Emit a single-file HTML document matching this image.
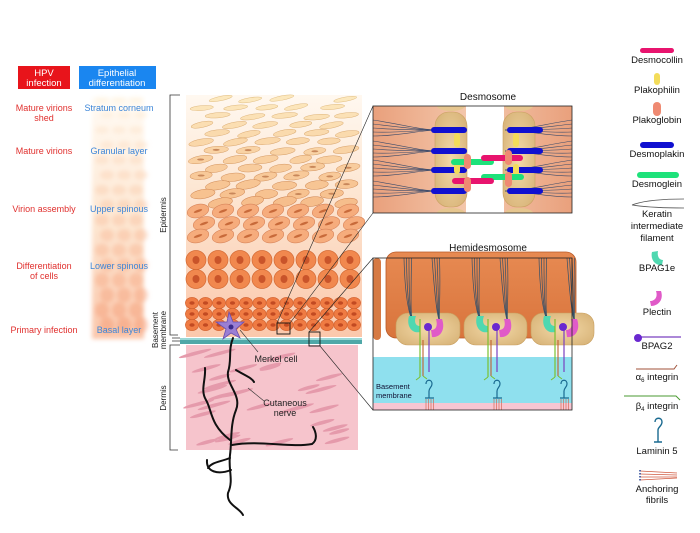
<!DOCTYPE html>
<html><head><meta charset="utf-8"><style>
html,body{margin:0;padding:0;background:#fff;}
body{width:700px;height:528px;overflow:hidden;font-family:"Liberation Sans",sans-serif;}
</style></head><body>
<svg id="s" width="700" height="528" viewBox="0 0 700 528" xmlns="http://www.w3.org/2000/svg" font-family="Liberation Sans, sans-serif">
<defs>
<linearGradient id="fadeL" x1="0" y1="0" x2="0" y2="1">
<stop offset="0" stop-color="#fffaf2"/><stop offset="0.5" stop-color="#fde2c8"/><stop offset="1" stop-color="#f9b896"/></linearGradient>
<linearGradient id="epi" x1="0" y1="0" x2="0" y2="1">
<stop offset="0" stop-color="#fff8f0"/><stop offset="0.4" stop-color="#fde6d2"/><stop offset="1" stop-color="#fbc8ac"/></linearGradient>
<linearGradient id="cellbg" x1="0" y1="0" x2="1" y2="0">
<stop offset="0" stop-color="#e9a07c"/><stop offset="0.5" stop-color="#f4c9ae"/><stop offset="1" stop-color="#e9a07c"/></linearGradient>
<linearGradient id="hcell" x1="0" y1="0" x2="0" y2="1">
<stop offset="0" stop-color="#e78a52"/><stop offset="1" stop-color="#d9743c"/></linearGradient>
<radialGradient id="plaque" cx="0.5" cy="0.5" r="0.6"><stop offset="0" stop-color="#f3d9a8"/><stop offset="1" stop-color="#d9b57a"/></radialGradient>
<filter id="bl"><feGaussianBlur stdDeviation="2"/></filter>
</defs>

<rect x="18" y="66" width="52" height="23" fill="#e8141b"/>
<text x="44" y="76" fill="#fff" font-size="9.5" text-anchor="middle">HPV</text>
<text x="44" y="86" fill="#fff" font-size="9.5" text-anchor="middle">infection</text>
<rect x="79" y="66" width="77" height="23" fill="#1a86f0"/>
<text x="117" y="76" fill="#fff" font-size="9.5" text-anchor="middle">Epithelial</text>
<text x="117" y="86" fill="#fff" font-size="9.5" text-anchor="middle">differentiation</text>

<g filter="url(#bl)">
<rect x="92" y="97" width="52" height="242" fill="url(#fadeL)" opacity="0.8"/>
<g id="fadecells" opacity="0.45"></g>
</g>

<g font-size="9" fill="#e0302e" text-anchor="middle">
<text x="44" y="111">Mature virions</text><text x="44" y="121">shed</text>
<text x="44" y="154">Mature virions</text>
<text x="44" y="212">Virion assembly</text>
<text x="44" y="269">Differentiation</text><text x="44" y="279">of cells</text>
<text x="44" y="333">Primary infection</text>
</g>
<g font-size="9" fill="#3d86d8" text-anchor="middle">
<text x="119" y="111">Stratum corneum</text>
<text x="119" y="154">Granular layer</text>
<text x="119" y="212">Upper spinous</text>
<text x="119" y="269">Lower spinous</text>
<text x="119" y="333">Basal layer</text>
</g>

<g stroke="#333" stroke-width="0.8" fill="none">
<path d="M180 95 H170 V335 H178"/>
<path d="M172 338 H180 M172 341 H180"/>
<path d="M180 345 H170 V450 H178"/>
</g>
<g font-size="8" fill="#222" text-anchor="middle">
<text transform="translate(166,215) rotate(-90)">Epidermis</text>
<text transform="translate(158,330) rotate(-90)">Basement</text>
<text transform="translate(166,330) rotate(-90)">membrane</text>
<text transform="translate(166,398) rotate(-90)">Dermis</text>
</g>

<rect x="186" y="95" width="176" height="242" fill="url(#epi)"/>
<g id="cells"></g>
<rect x="180" y="338" width="182" height="6" fill="#4fa8a8"/>
<rect x="180" y="338" width="182" height="2" fill="#9ad8d6"/>
<rect x="186" y="345" width="172" height="105" fill="#f6c4cc"/>
<g id="fibers"></g>

<g stroke="#111" stroke-width="2" fill="none" stroke-linecap="round">
<path d="M233 338 C228 350 232 360 228 372 C226 385 242 395 236 410 C230 425 232 440 230 455 C228 470 234 480 228 493 C226 505 240 508 243 515"/>
<path d="M230 458 C220 462 212 462 208 468 M231 470 C218 475 206 472 207 460"/>
<path d="M205 368 C206 380 200 390 206 400 C212 410 210 425 230 440"/>
<path d="M232 445 C260 440 290 448 312 444 C318 440 316 432 313 427"/>
<path d="M236 370 C246 376 252 378 254 382"/>
</g>
<path d="M229 312 L233 322 L244 322 L236 329 L240 338 L231 333 L223 339 L226 329 L216 322 L227 322 Z" fill="#9b7fd4" stroke="#6a4fb0" stroke-width="0.8"/>
<circle cx="231" cy="327" r="2.5" fill="#3b2a8a"/>
<line x1="240" y1="330" x2="258" y2="352" stroke="#333" stroke-width="0.6"/>
<line x1="248" y1="388" x2="264" y2="401" stroke="#333" stroke-width="0.6"/>
<text x="276" y="362" font-size="9" text-anchor="middle" fill="#222">Merkel cell</text>
<text x="285" y="406" font-size="9" text-anchor="middle" fill="#222">Cutaneous</text>
<text x="285" y="416" font-size="9" text-anchor="middle" fill="#222">nerve</text>

<rect x="277" y="323" width="13" height="11" fill="none" stroke="#111" stroke-width="0.9"/>
<rect x="309" y="332" width="11" height="14" fill="none" stroke="#111" stroke-width="0.9"/>
<g stroke="#222" stroke-width="0.6">
<line x1="277" y1="323" x2="373" y2="106"/>
<line x1="290" y1="323" x2="373" y2="213"/>
<line x1="309" y1="332" x2="373" y2="258"/>
<line x1="320" y1="346" x2="373" y2="410"/>
</g>

<text x="488" y="100" font-size="10" text-anchor="middle" fill="#111">Desmosome</text>
<g id="desmo"></g>
<text x="488" y="251" font-size="10" text-anchor="middle" fill="#111">Hemidesmosome</text>
<g id="hemi"></g>

<g font-size="9.5" fill="#111" text-anchor="middle">
<rect x="640" y="48" width="34" height="5" rx="2.5" fill="#e8146e"/>
<text x="657" y="63">Desmocollin</text>
<rect x="654" y="73" width="6" height="12" rx="3" fill="#f3dc5a"/>
<text x="657" y="93">Plakophilin</text>
<rect x="653" y="102" width="8" height="14" rx="4" fill="#ef8a72"/>
<text x="657" y="123">Plakoglobin</text>
<rect x="640" y="142" width="34" height="6" rx="3" fill="#1010d0"/>
<text x="657" y="157">Desmoplakin</text>
<rect x="637" y="172" width="42" height="6" rx="3" fill="#1ee27a"/>
<text x="657" y="187">Desmoglein</text>
<path d="M632 205 C645 200 665 199 684 199 M632 205 C645 207 665 208 684 208" stroke="#555" stroke-width="0.8" fill="none"/>
<text x="657" y="217">Keratin</text><text x="657" y="229">intermediate</text><text x="657" y="241">filament</text>
<path d="M652 252 C650 260 656 266 662 265 L663 260 C659 260 657 256 658 251 Z" fill="#4fd8b0"/>
<text x="657" y="271">BPAG1e</text>
<path d="M661 291 C664 300 658 306 651 306 L650 301 C655 301 658 297 656 291 Z" fill="#e05ac8"/>
<text x="657" y="315">Plectin</text>
<line x1="636" y1="337" x2="681" y2="337" stroke="#7a40c0" stroke-width="1.2"/>
<circle cx="638" cy="338" r="4" fill="#6a28d0"/>
<text x="657" y="349">BPAG2</text>
<path d="M636 369 H674 L677 365" stroke="#a0523a" stroke-width="1" fill="none"/>
<text x="657" y="380">α<tspan font-size="6" dy="2">6</tspan><tspan dy="-2"> integrin</tspan></text>
<path d="M624 396 H676 L680 400" stroke="#4a9a30" stroke-width="1" fill="none"/>
<text x="657" y="409">β<tspan font-size="6" dy="2">4</tspan><tspan dy="-2"> integrin</tspan></text>
<path d="M655 422 C655 417 662 417 662 422 C662 426 658 427 658 430 V442 M654 442 H662" stroke="#1a6a90" stroke-width="1.4" fill="none"/>
<text x="657" y="454">Laminin 5</text>
<g stroke="#d05a40" stroke-width="0.8"><line x1="640" y1="471" x2="677" y2="473"/><line x1="640" y1="474" x2="677" y2="475"/><line x1="640" y1="477" x2="677" y2="477"/><line x1="640" y1="480" x2="677" y2="478"/></g>
<line x1="640" y1="470" x2="640" y2="481" stroke="#1a3a90" stroke-width="1.4" stroke-dasharray="1.5 1.5"/>
<text x="657" y="492">Anchoring</text><text x="657" y="503">fibrils</text>
</g>
</svg>
<script>
var NS="http://www.w3.org/2000/svg";
function el(p,t,a){var e=document.createElementNS(NS,t);for(var k in a)e.setAttribute(k,a[k]);p.appendChild(e);return e;}
function lerp(a,b,t){return a+(b-a)*t;}
function col(c1,c2,t){var r=[];for(var i=0;i<3;i++)r.push(Math.round(lerp(c1[i],c2[i],t)));return "rgb("+r.join(",")+")";}
var g=document.getElementById("cells");
var seed=3;function rnd(){seed=(seed*9301+49297)%233280;return seed/233280;}
// flat cells
for(var i=0;i<13;i++){
 var y=98+i*8.6;var t=i/12;
 var fill=col([252,232,190],[246,190,140],t);
 var off=(i%2)*16;
 for(var x=200+off-16;x<365;x+=32){
  var cx=x+rnd()*5, w=11+rnd()*2, h=2.2+t*2.5;
  if(cx<196||cx>352)continue;
  if(i==0&&rnd()<0.35)continue;
  var cy=y+rnd()*2;
  el(g,"ellipse",{cx:cx,cy:cy,rx:w,ry:h,fill:fill,stroke:col([225,190,130],[205,130,80],t),"stroke-width":0.5,transform:"rotate("+(-4-rnd()*8)+" "+cx+" "+cy+")"});
  if(i>5&&rnd()<0.4)el(g,"ellipse",{cx:cx,cy:cy,rx:3.5,ry:1,fill:"#c8875a"});
 }
}
// spinous
for(var i=0;i<3;i++){
 var y=211+i*12.5;
 for(var k=0;k<7;k++){var cx=198+k*25+(i%2)*6;if(cx>355)continue;
  el(g,"ellipse",{cx:cx,cy:y,rx:11,ry:6.5,fill:"#f6ac7c",stroke:"#d8845a","stroke-width":0.6,transform:"rotate(-15 "+cx+" "+y+")"});
  el(g,"ellipse",{cx:cx,cy:y,rx:4.5,ry:1.2,fill:"#c86a3a",transform:"rotate(-20 "+cx+" "+y+")"});}
}
for(var i=0;i<2;i++){var y=260+i*19;
 for(var k=0;k<8;k++){var cx=196+k*22;
  el(g,"ellipse",{cx:cx,cy:y,rx:10,ry:9.5,fill:"#f1884e",stroke:"#d46a34","stroke-width":0.7});
  el(g,"ellipse",{cx:cx,cy:y,rx:3.5,ry:4,fill:"#c9542a"});}}
for(var i=0;i<3;i++){var y=303+i*11;
 for(var k=0;k<13;k++){var cx=192+k*13.5;
  el(g,"ellipse",{cx:cx,cy:y,rx:6.6,ry:5.6,fill:"#ef7b43",stroke:"#d0602e","stroke-width":0.6});
  el(g,"ellipse",{cx:cx,cy:y,rx:2.6,ry:1.8,fill:"#c24a22"});}}
var fg=document.getElementById("fadecells");
for(var i=0;i<16;i++){var y=100+i*15;for(var k=0;k<3;k++){var cx=102+k*17+(i%2)*5;
 el(fg,"ellipse",{cx:cx,cy:y,rx:7,ry:3+i*0.35,fill:col([255,240,215],[245,150,110],i/15)});}}
var fb=document.getElementById("fibers");
for(var i=0;i<30;i++){var cx=195+rnd()*158, cy=350+rnd()*96;
 el(fb,"ellipse",{cx:cx,cy:cy,rx:10+rnd()*8,ry:1.8,fill:"#e59aab",transform:"rotate(-15 "+cx+" "+cy+")"});}
// Desmosome
var d=document.getElementById("desmo");
el(d,"rect",{x:373,y:106,width:199,height:107,fill:"url(#cellbg)"});
el(d,"rect",{x:466,y:106,width:38,height:107,fill:"#fff"});
[[435,467],[503,535]].forEach(function(p){
 el(d,"rect",{x:p[0],y:112,width:p[1]-p[0],height:95,rx:14,fill:"url(#plaque)",stroke:"#c9a060","stroke-width":0.6});
 el(d,"ellipse",{cx:(p[0]+p[1])/2,cy:106,rx:14,ry:5,fill:"#e6c68f"});
 el(d,"ellipse",{cx:(p[0]+p[1])/2,cy:213,rx:14,ry:5,fill:"#e6c68f"});
});
el(d,"rect",{x:373,y:213,width:199,height:6,fill:"#fff"});
el(d,"rect",{x:373,y:100,width:199,height:6,fill:"#fff"});
for(var j=0;j<4;j++){var yy=[130,151,170,191][j];
 for(var q=-2;q<=2;q++){
  el(d,"path",{d:"M373 "+(yy+q*4-2)+" C400 "+(yy+q*3)+" 420 "+yy+" 440 "+yy,stroke:"#3a4a6a","stroke-width":0.6,fill:"none"});
  el(d,"path",{d:"M572 "+(yy+q*4-2)+" C545 "+(yy+q*3)+" 525 "+yy+" 505 "+yy,stroke:"#3a4a6a","stroke-width":0.6,fill:"none"});}}
[130,151,170,191].forEach(function(yy){
 el(d,"rect",{x:431,y:yy-3,width:36,height:6,rx:3,fill:"#1010d0"});
 el(d,"rect",{x:507,y:yy-3,width:36,height:6,rx:3,fill:"#1010d0"});});
el(d,"rect",{x:454,y:133,width:6,height:14,rx:3,fill:"#f3dc5a"});
el(d,"rect",{x:454,y:160,width:6,height:14,rx:3,fill:"#f3dc5a"});
el(d,"rect",{x:513,y:133,width:6,height:14,rx:3,fill:"#f3dc5a"});
el(d,"rect",{x:513,y:164,width:6,height:14,rx:3,fill:"#f3dc5a"});
el(d,"rect",{x:451,y:159,width:43,height:6,rx:3,fill:"#1ee27a"});
el(d,"rect",{x:481,y:174,width:43,height:6,rx:3,fill:"#1ee27a"});
el(d,"rect",{x:481,y:155,width:42,height:6,rx:3,fill:"#e8146e"});
el(d,"rect",{x:452,y:178,width:42,height:6,rx:3,fill:"#e8146e"});
[[464,154],[464,177],[505,150],[505,172]].forEach(function(p){el(d,"rect",{x:p[0],y:p[1],width:7,height:15,rx:3.5,fill:"#ef8a72"});});
el(d,"rect",{x:373,y:106,width:199,height:107,fill:"none",stroke:"#222","stroke-width":0.8});
// Hemidesmosome
var h=document.getElementById("hemi");
el(h,"rect",{x:373,y:258,width:199,height:152,fill:"#fff"});
el(h,"rect",{x:373,y:357,width:199,height:47,fill:"#8fe0ee"});
el(h,"rect",{x:373,y:403,width:199,height:7,fill:"#f7c6d2"});
el(h,"rect",{x:373,y:258,width:8,height:82,rx:4,fill:"#d67a44"});
el(h,"rect",{x:386,y:252,width:190,height:86,rx:10,fill:"url(#hcell)",stroke:"#b85a28","stroke-width":0.8});
[[396,460],[464,527],[531,594]].forEach(function(p,i){
 el(h,"rect",{x:p[0],y:313,width:p[1]-p[0],height:32,rx:12,fill:"url(#plaque)",stroke:"#c9a060","stroke-width":0.6});
 var a=p[0];
 for(var q=0;q<4;q++){
  el(h,"path",{d:"M"+(a+8+q*2.5)+" 258 C"+(a+9+q*2)+" 300 "+(a+14)+" 320 "+(a+18)+" 322",stroke:"#33506a","stroke-width":0.7,fill:"none"});
  el(h,"path",{d:"M"+(a+36+q*2.5)+" 258 C"+(a+39+q*2)+" 300 "+(a+42)+" 320 "+(a+44)+" 322",stroke:"#33506a","stroke-width":0.7,fill:"none"});}
 el(h,"path",{d:"M"+(a+13)+" 316 C"+(a+10)+" 326 "+(a+16)+" 334 "+(a+24)+" 332 L"+(a+24)+" 326 C"+(a+19)+" 326 "+(a+18)+" 321 "+(a+20)+" 316 Z",fill:"#4fd8b0"});
 el(h,"path",{d:"M"+(a+46)+" 319 C"+(a+50)+" 330 "+(a+44)+" 338 "+(a+36)+" 337 L"+(a+35)+" 330 C"+(a+40)+" 330 "+(a+42)+" 326 "+(a+40)+" 319 Z",fill:"#e05ac8"});
 el(h,"line",{x1:a+24,y1:319,x2:a+24,y2:377,stroke:"#7ac030","stroke-width":1.2});
 el(h,"line",{x1:a+27,y1:340,x2:a+27,y2:376,stroke:"#c06030","stroke-width":1.1});
 el(h,"line",{x1:a+33,y1:327,x2:a+33,y2:372,stroke:"#7a40c0","stroke-width":1.2});
 el(h,"circle",{cx:a+32,cy:327,r:4,fill:"#6a28d0"});
 el(h,"path",{d:"M"+(a+24)+" 377 L"+(a+20)+" 380 M"+(a+27)+" 376 L"+(a+31)+" 379",stroke:"#7ac030","stroke-width":1});
 el(h,"path",{d:"M"+(a+30)+" 384 C"+(a+30)+" 379 "+(a+36)+" 379 "+(a+36)+" 384 C"+(a+36)+" 387 "+(a+33)+" 388 "+(a+33)+" 391 V398 M"+(a+29)+" 398 H"+(a+38),stroke:"#1a6a90","stroke-width":1.2,fill:"none"});
 for(var q=0;q<4;q++)el(h,"line",{x1:a+30+q*2.5,y1:399,x2:a+30+q*2.5,y2:410,stroke:"#d05a40","stroke-width":0.6});
});
el(h,"text",{x:376,y:389,"font-size":7.5,fill:"#113"}).textContent="Basement";
el(h,"text",{x:376,y:398,"font-size":7.5,fill:"#113"}).textContent="membrane";
el(h,"rect",{x:373,y:258,width:199,height:152,fill:"none",stroke:"#222","stroke-width":0.8});
</script>
</body></html>
